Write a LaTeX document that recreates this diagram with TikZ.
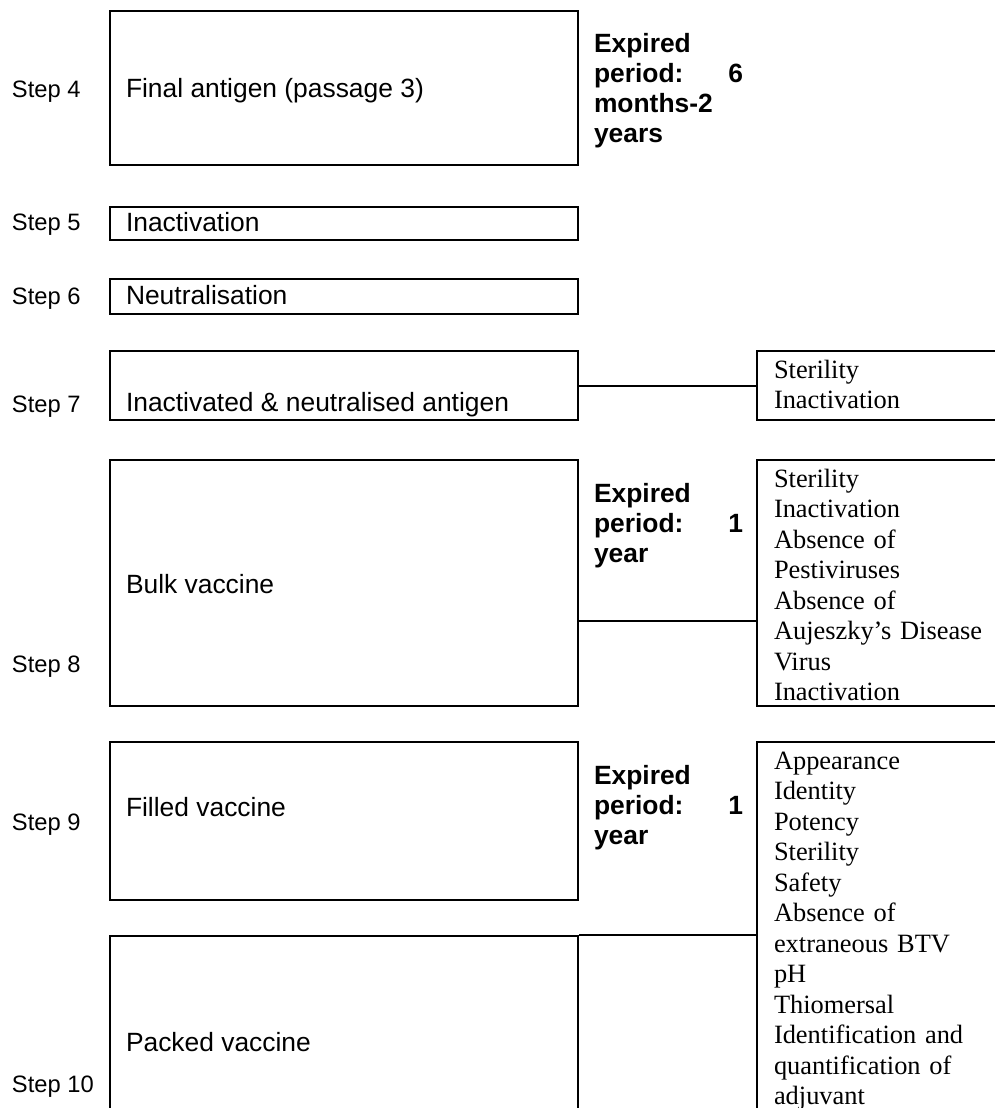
\documentclass[tikz,border=0pt]{standalone}
\usepackage{fontspec}
\setmainfont{Liberation Sans}
\newfontfamily\timesfont{Liberation Serif}
\usetikzlibrary{fit}

\tikzset{every picture/.style={line width=1.5pt}}
\tikzset{
  stagebox/.style={draw, rectangle, inner sep=0pt},
  steplabel/.style={anchor=base west, inner sep=0pt, font=\fontsize{17.8}{21}\selectfont},
  boxtext/.style={anchor=base west, inner sep=0pt, font=\fontsize{19.8}{23}\selectfont},
  expiry/.style={anchor=base west, inner sep=0pt, text width=111.75pt, align=left, font=\fontsize{19.8}{22.5}\selectfont\bfseries},
  testlist/.style={anchor=base west, inner sep=0pt, text width=180pt, align=left, font=\timesfont\fontsize{19.8}{22.9}\selectfont}
}

\begin{document}
\begin{tikzpicture}[x=0.75pt,y=0.75pt,yscale=-1,xscale=1]
\clip (0,0) rectangle (995,1108);

%Shape: Rectangle [stage boxes]
\node [stagebox, fit={(110,11) (578,165)}] (b4) {};
\node [stagebox, fit={(110,207) (578,240)}] (b5) {};
\node [stagebox, fit={(110,279) (578,314)}] (b6) {};
\node [stagebox, fit={(110,351) (578,420)}] (b7) {};
\node [stagebox, fit={(110,460) (578,706)}] (b8) {};
\node [stagebox, fit={(110,742) (578,900)}] (b9) {};
\node [stagebox, fit={(110,936) (578,1130)}] (b10) {};

%Shape: Rectangle [control boxes]
\node [stagebox, fit={(757,351) (1010,420)}] (c7) {};
\node [stagebox, fit={(757,460) (1010,706)}] (c8) {};
\node [stagebox, fit={(757,742) (1010,1130)}] (c9) {};

%Straight Lines
\coordinate (k8) at (0,621);
\draw (b7.east) -- (c7.west);
\draw (b8.east |- k8) -- (c8.west |- k8);
\draw (b10.north east) -- (c9.west |- b10.north east);

% Text Node
\node [steplabel] (s4) at (11,97) {Step 4};
\node [steplabel] (s5) at (11,230) {Step 5};
\node [steplabel] (s6) at (11,304) {Step 6};
\node [steplabel] (s7) at (11,412) {Step 7};
\node [steplabel] (s8) at (11,672) {Step 8};
\node [steplabel] (s9) at (11,830) {Step 9};
\node [steplabel] (s10) at (11,1092) {Step 10};

% Text Node
\node [boxtext] (t4) at (125,97) {Final antigen (passage 3)};
\node [boxtext] (t5) at (125,231) {Inactivation};
\node [boxtext] (t6) at (125,304) {Neutralisation};
\node [boxtext] (t7) at (125,411) {Inactivated \& neutralised antigen};
\node [boxtext] (t8) at (125,593) {Bulk vaccine};
\node [boxtext] (t9) at (125,816) {Filled vaccine};
\node [boxtext] (t10) at (125,1051) {Packed vaccine};

% Text Node
\node [expiry] (e4) at (593,52) {Expired\\period:\hfill 6\\months-2\\years};
\node [expiry] (e8) at (593,502) {Expired\\period:\hfill 1\\year};
\node [expiry] (e9) at (593,784) {Expired\\period:\hfill 1\\year};

% Text Node
\node [testlist] (l7) at (773,378) {Sterility\\Inactivation};
\node [testlist] (l8) at (773,487) {Sterility\\Inactivation\\Absence of\\Pestiviruses\\Absence of\\Aujeszky’s Disease\\Virus\\Inactivation};
\node [testlist] (l9) at (773,769) {Appearance\\Identity\\Potency\\Sterility\\Safety\\Absence of\\extraneous BTV\\pH\\Thiomersal\\Identification and\\quantification of\\adjuvant};
\end{tikzpicture}
\end{document}
